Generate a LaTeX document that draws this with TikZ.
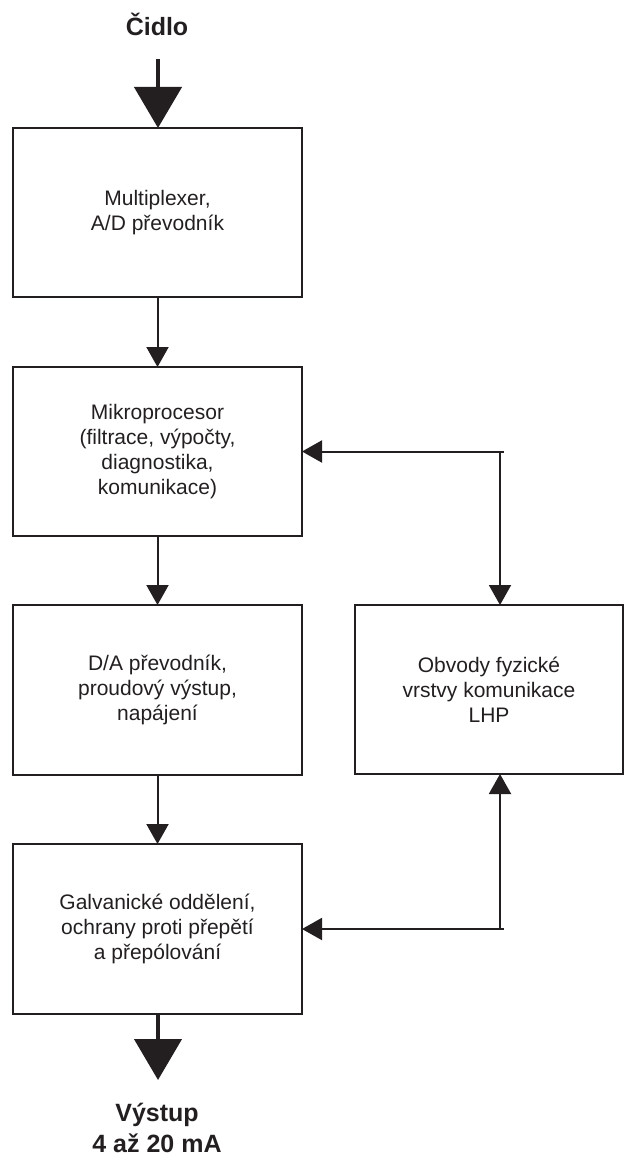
\documentclass[tikz,border=0pt]{standalone}
\usepackage{fontspec}
\setmainfont{Liberation Sans}
\usetikzlibrary{arrows.meta,calc}
\definecolor{ink}{HTML}{231F20}
\begin{document}
\begin{tikzpicture}[x=1pt,y=-1pt,
  every node/.style={text=ink,font=\fontsize{21}{25}\selectfont},
  block/.style={draw=ink,line width=2.2pt,rectangle,align=center,inner sep=0pt,outer sep=0pt},
  lbox/.style={block,minimum width=289pt,minimum height=169pt},
  title/.style={font=\bfseries\fontsize{25}{31}\selectfont,align=center,inner sep=0pt},
  conn/.style={draw=ink,line width=2pt,-{Triangle[length=20pt,width=22pt]}},
  bigarr/.style={draw=ink,line width=4.5pt,-{Triangle[length=41pt,width=47pt]}}
]
\useasboundingbox (0,0) rectangle (636,1158);

\node[title,anchor=base] (cidlo) at (157,36) {Čidlo};
\coordinate (intop) at (158,59);

\node[lbox] (b1) at (157.5,212.5) {Multiplexer,\\A/D převodník};
\node[lbox] (b2) at (157.5,451.5) {Mikroprocesor\\(filtrace, výpočty,\\diagnostika,\\komunikace)};
\node[lbox,minimum height=170pt] (b3) at (157.5,690) {D/A převodník,\\proudový výstup,\\napájení};
\node[lbox,minimum height=170pt] (b4) at (157.5,929) {Galvanické oddělení,\\ochrany proti přepětí\\a přepólování};
\node[block,minimum width=268pt,minimum height=169pt] (r) at (489,689.5) {Obvody fyzické\\vrstvy komunikace\\LHP};

\coordinate (outbot) at (158,1080);
\node[title,anchor=base] (vystup) at (157,1152) {Výstup\\4 až 20 mA};

% main flow
\draw[bigarr] (intop) -- (b1.north -| intop);
\draw[conn] (b1.south) -- (b2.north);
\draw[conn] (b2.south) -- (b3.north);
\draw[conn] (b3.south) -- (b4.north);
\draw[bigarr] (b4.south -| outbot) -- (outbot);

% communication loop
\coordinate (j1) at (500,451.5);
\coordinate (e1) at (504,451.5);
\coordinate (j2) at (500,929);
\coordinate (e2) at (504,929);
\draw[conn] (e1) -- (b2.east);
\draw[conn] ([yshift=-1pt]j1) -- (j1 |- r.north);
\draw[conn] (e2) -- (b4.east);
\draw[conn] ([yshift=1pt]j2) -- (j2 |- r.south);
\end{tikzpicture}
\end{document}
